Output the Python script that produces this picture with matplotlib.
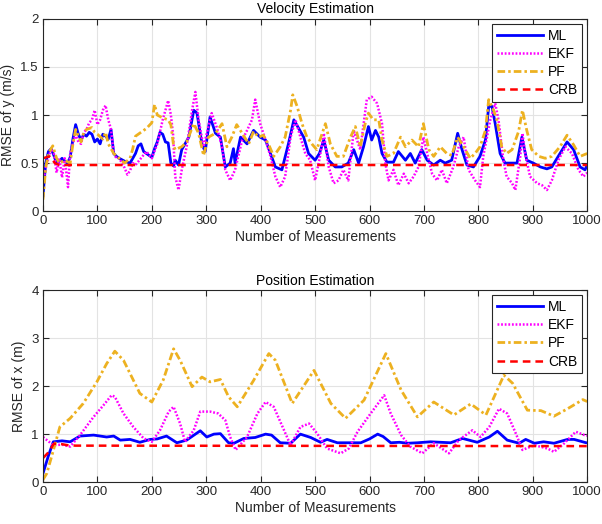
import matplotlib
matplotlib.use("Agg")
import matplotlib.pyplot as plt

plt.rcParams['font.family'] = ['Liberation Sans', 'DejaVu Sans']
plt.rcParams['lines.scale_dashes'] = False

# ---- velocity estimation (top) ----
ml_vel_m = [0, 5, 10, 15, 20, 25, 30, 35, 40, 45, 50, 55, 60, 65, 70, 75, 80, 85, 90, 95, 100,
            105, 110, 115, 120, 125, 130, 135, 140, 150, 160, 165, 170, 175, 180, 185, 190, 200,
            205, 210, 215, 220, 225, 230, 235, 240, 243, 249, 255, 268, 277, 283, 292, 298, 307,
            317, 326, 335, 344, 350, 353, 363, 375, 387, 399, 409, 418, 427, 439, 451, 461, 470,
            479, 488, 500, 508, 516, 525, 537, 549, 561, 571, 580, 589, 598, 604, 611, 617, 623,
            632, 644, 653, 666, 675, 684, 696, 706, 718, 730, 739, 751, 762, 770, 779, 791, 803,
            813, 819, 825, 831, 840, 849, 859, 871, 880, 889, 901, 914, 926, 935, 950, 963, 975,
            987, 996, 1000]
ml_vel = [0.16, 0.5, 0.62, 0.65, 0.58, 0.5, 0.52, 0.55, 0.52, 0.5, 0.56, 0.75, 0.90, 0.8, 0.74,
          0.8, 0.78, 0.82, 0.8, 0.72, 0.75, 0.7, 0.8, 0.78, 0.75, 0.85, 0.6, 0.57, 0.55, 0.52,
          0.5, 0.55, 0.6, 0.68, 0.7, 0.62, 0.6, 0.56, 0.65, 0.72, 0.82, 0.8, 0.72, 0.71, 0.5,
          0.47, 0.53, 0.48, 0.64, 0.77, 1.05, 1.02, 0.70, 0.62, 0.98, 0.81, 0.77, 0.46, 0.50,
          0.65, 0.50, 0.77, 0.70, 0.84, 0.77, 0.74, 0.60, 0.46, 0.43, 0.70, 0.95, 0.86, 0.77,
          0.60, 0.53, 0.6, 0.74, 0.53, 0.46, 0.46, 0.50, 0.64, 0.50, 0.67, 0.88, 0.74, 0.84,
          0.77, 0.60, 0.51, 0.51, 0.62, 0.53, 0.60, 0.50, 0.64, 0.53, 0.48, 0.53, 0.50, 0.53,
          0.81, 0.64, 0.48, 0.46, 0.57, 0.74, 1.09, 1.09, 0.91, 0.60, 0.50, 0.50, 0.50, 0.77,
          0.53, 0.50, 0.46, 0.44, 0.46, 0.60, 0.72, 0.64, 0.46, 0.43, 0.48]

ekf_vel_m = [0, 5, 10, 15, 20, 25, 30, 35, 40, 46, 50, 55, 60, 65, 70, 75, 80, 85, 90, 95, 100,
             105, 110, 115, 120, 125, 130, 135, 140, 145, 150, 155, 160, 165, 170, 180, 190, 200,
             210, 220, 230, 235, 239, 243, 249, 255, 264, 274, 280, 286, 295, 304, 310, 320, 329,
             335, 344, 353, 366, 375, 384, 390, 399, 409, 418, 427, 436, 445, 455, 464, 473, 482,
             491, 500, 509, 516, 525, 534, 543, 552, 561, 571, 583, 595, 604, 614, 623, 629, 635,
             644, 653, 663, 672, 681, 690, 699, 706, 715, 724, 733, 742, 754, 764, 773, 782, 794,
             803, 809, 822, 831, 837, 846, 852, 862, 868, 877, 881, 886, 895, 908, 917, 926, 935,
             947, 960, 972, 984, 993, 1000]
ekf_vel = [0.3, 0.45, 0.55, 0.65, 0.6, 0.4, 0.55, 0.35, 0.55, 0.25, 0.6, 0.7, 0.8, 0.72, 0.7,
           0.82, 0.85, 0.92, 0.95, 1.05, 0.9, 0.95, 1.05, 1.1, 0.95, 0.85, 0.6, 0.55, 0.55, 0.5,
           0.45, 0.38, 0.42, 0.5, 0.48, 0.55, 0.62, 0.55, 0.7, 0.95, 1.15, 1.0, 0.8, 0.36, 0.22,
           0.43, 0.67, 1.05, 1.24, 0.95, 0.67, 0.88, 1.02, 0.86, 0.67, 0.43, 0.32, 0.43, 0.74,
           0.84, 0.95, 1.16, 0.91, 0.74, 0.57, 0.36, 0.25, 0.36, 0.77, 0.95, 0.77, 0.60, 0.53,
           0.32, 0.57, 0.81, 0.46, 0.29, 0.32, 0.43, 0.32, 0.84, 0.64, 1.16, 1.19, 1.12, 0.91,
           0.50, 0.32, 0.43, 0.27, 0.39, 0.29, 0.36, 0.46, 0.77, 0.60, 0.39, 0.32, 0.43, 0.29,
           0.46, 0.67, 0.77, 0.43, 0.32, 0.25, 0.57, 0.95, 1.12, 0.95, 0.53, 0.36, 0.29, 0.22,
           0.57, 0.81, 0.60, 0.36, 0.29, 0.27, 0.22, 0.32, 0.53, 0.67, 0.60, 0.43, 0.36, 0.4]

pf_vel_m = [0, 5, 10, 18, 25, 30, 40, 50, 55, 60, 65, 70, 75, 80, 90, 95, 100, 110, 115, 120,
            130, 140, 150, 160, 165, 170, 180, 190, 200, 205, 210, 220, 230, 235, 240, 243, 255,
            264, 277, 286, 295, 304, 317, 329, 338, 347, 356, 366, 378, 387, 396, 405, 415, 424,
            436, 445, 455, 459, 467, 476, 485, 494, 503, 519, 528, 540, 552, 565, 574, 583, 592,
            598, 607, 617, 623, 632, 644, 657, 666, 678, 690, 699, 709, 718, 730, 742, 751, 762,
            773, 785, 794, 803, 813, 819, 828, 834, 843, 852, 862, 874, 881, 889, 898, 911, 923,
            935, 950, 963, 975, 987, 1000]
pf_vel = [0.12, 0.45, 0.6, 0.68, 0.55, 0.5, 0.53, 0.5, 0.7, 0.85, 0.78, 0.72, 0.82, 0.85, 0.87,
          0.82, 0.8, 0.75, 0.82, 0.7, 0.6, 0.55, 0.5, 0.55, 0.65, 0.78, 0.82, 0.86, 0.92, 1.11,
          1.0, 0.97, 0.95, 0.9, 0.68, 0.64, 0.67, 0.72, 0.91, 0.81, 0.58, 0.77, 0.81, 0.91, 0.67,
          0.77, 0.90, 0.81, 0.70, 0.83, 0.77, 0.79, 0.69, 0.57, 0.67, 0.77, 1.05, 1.21, 1.09,
          0.91, 0.77, 0.70, 0.64, 0.91, 0.70, 0.57, 0.57, 0.77, 0.88, 0.67, 0.91, 1.02, 0.95,
          0.95, 0.74, 0.57, 0.60, 0.77, 0.67, 0.74, 0.67, 0.91, 0.64, 0.57, 0.67, 0.60, 0.58,
          0.77, 0.67, 0.55, 0.60, 0.67, 0.84, 1.16, 1.05, 0.95, 0.67, 0.60, 0.64, 0.83, 1.05,
          0.84, 0.64, 0.57, 0.55, 0.57, 0.67, 0.79, 0.69, 0.57, 0.60]

crb_vel_m = [0, 12, 22, 30, 1000]
crb_vel = [0.55, 0.57, 0.5, 0.48, 0.48]

# ---- position estimation (bottom) ----
ml_pos_m = [0, 10, 19, 35, 50, 68, 93, 117, 130, 142, 160, 178, 197, 210, 227, 246, 264, 289,
            301, 314, 326, 341, 351, 369, 390, 409, 420, 436, 455, 473, 492, 510, 522, 541, 560,
            584, 600, 615, 625, 639, 655, 670, 688, 712, 749, 771, 798, 820, 835, 853, 875, 887,
            903, 920, 939, 964, 976, 998, 1000]
ml_pos = [0.18, 0.55, 0.84, 0.86, 0.84, 0.96, 0.98, 0.94, 0.96, 0.875, 0.89, 0.83, 0.89, 0.9,
          0.96, 0.82, 0.875, 1.07, 0.94, 1.0, 1.01, 0.82, 0.81, 0.91, 0.93, 1.0, 0.98, 0.82,
          0.81, 1.0, 0.93, 0.83, 0.89, 0.82, 0.82, 0.82, 0.9, 1.0, 0.95, 0.82, 0.83, 0.81, 0.82,
          0.84, 0.82, 0.91, 0.83, 0.94, 1.06, 0.875, 0.81, 0.89, 0.81, 0.84, 0.81, 0.89, 0.89,
          0.82, 0.82]

ekf_pos_m = [0, 19, 35, 50, 68, 93, 111, 126, 132, 148, 166, 185, 200, 215, 231, 240, 252, 261,
             277, 289, 307, 322, 335, 344, 354, 375, 394, 409, 424, 443, 455, 473, 489, 504, 522,
             547, 562, 578, 602, 627, 639, 658, 675, 697, 718, 746, 764, 789, 804, 820, 838, 853,
             869, 881, 903, 927, 939, 958, 979, 995, 1000]
ekf_pos = [0.94, 0.77, 0.78, 0.74, 0.98, 1.36, 1.6, 1.81, 1.78, 1.43, 1.15, 0.91, 0.84, 1.08,
           1.47, 1.57, 1.22, 0.84, 1.08, 1.47, 1.47, 1.43, 1.29, 0.94, 0.67, 0.94, 1.43, 1.67,
           1.57, 1.08, 0.77, 1.15, 1.22, 1.01, 0.70, 0.60, 0.70, 1.05, 1.43, 1.81, 1.43, 0.98,
           0.74, 0.60, 0.81, 0.60, 0.875, 1.08, 0.94, 1.15, 1.53, 1.43, 1.01, 0.67, 0.77, 0.70,
           0.63, 0.81, 1.05, 0.98, 0.97]

pf_pos_m = [0, 7, 20, 31, 50, 74, 99, 117, 132, 148, 178, 200, 221, 240, 252, 274, 292, 307,
            326, 341, 357, 387, 415, 427, 458, 498, 529, 556, 590, 630, 658, 688, 718, 755, 786,
            814, 847, 863, 890, 915, 939, 964, 992, 1000]
pf_pos = [0.05, 0.18, 0.7, 1.15, 1.33, 1.64, 2.09, 2.47, 2.73, 2.54, 1.85, 1.67, 2.13, 2.78,
          2.54, 1.99, 2.19, 2.09, 2.14, 1.78, 1.57, 2.12, 2.68, 2.54, 1.64, 2.33, 1.64, 1.33,
          1.71, 2.68, 1.92, 1.36, 1.67, 1.40, 1.63, 1.40, 2.23, 2.06, 1.5, 1.49, 1.375, 1.53,
          1.72, 1.68]

crb_pos_m = [0, 10, 20, 30, 45, 60, 1000]
crb_pos = [0.5, 0.62, 0.8, 0.8, 0.77, 0.76, 0.75]

labels = ['ML', 'EKF', 'PF', 'CRB']
xticks = list(range(0, 1001, 100))

dark = '#262626'
fig = plt.figure(figsize=(6.02, 5.24), dpi=100)
ax1 = fig.add_axes([0.0714, 0.597, 0.904, 0.367])
ax2 = fig.add_axes([0.0714, 0.080, 0.904, 0.366])


def draw(ax, ml, ekf, pf, crb):
    ax.plot(ml[0], ml[1], color='#0000FF', lw=2.0, label=labels[0])
    ax.plot(ekf[0], ekf[1], color='#FF00FF', lw=1.8, dashes=[1.3, 1.3], label=labels[1])
    ax.plot(pf[0], pf[1], color='#EDB120', lw=2.0, dashes=[5.5, 2.2, 1.8, 2.2], label=labels[2])
    ax.plot(crb[0], crb[1], color='#FF0000', lw=1.8, dashes=[5.5, 3.6], label=labels[3])


draw(ax1, (ml_vel_m, ml_vel), (ekf_vel_m, ekf_vel), (pf_vel_m, pf_vel), (crb_vel_m, crb_vel))
draw(ax2, (ml_pos_m, ml_pos), (ekf_pos_m, ekf_pos), (pf_pos_m, pf_pos), (crb_pos_m, crb_pos))

ax1.set_ylim(0, 2)
ax1.set_yticks([0, 0.5, 1, 1.5, 2])
ax1.set_yticklabels(['0', '0.5', '1', '1.5', '2'])
ax1.set_ylabel('RMSE of y (m/s)', fontsize=10, color=dark)
ax1.set_title('Velocity Estimation', fontsize=10, color='black', pad=4)

ax2.set_ylim(0, 4)
ax2.set_yticks([0, 1, 2, 3, 4])
ax2.set_ylabel('RMSE of x (m)', fontsize=10, color=dark)
ax2.set_title('Position Estimation', fontsize=10, color='black', pad=4)

for ax in (ax1, ax2):
    ax.set_xlim(0, 1000)
    ax.set_xticks(xticks)
    ax.set_xlabel('Number of Measurements', fontsize=10, color=dark, labelpad=2)
    ax.grid(True, color='#e3e3e3', lw=0.8)
    ax.set_axisbelow(True)
    ax.tick_params(direction='in', top=True, right=True, length=4, width=0.8,
                   labelsize=9.5, colors=dark, pad=3)
    for s in ax.spines.values():
        s.set_color(dark)
        s.set_linewidth(0.8)
    leg = ax.legend(loc='upper right', fontsize=10, handlelength=3.3, labelspacing=0.3,
                    borderaxespad=0.35, fancybox=False, framealpha=1, edgecolor=dark,
                    handletextpad=0.4, borderpad=0.35)
    leg.get_frame().set_linewidth(0.8)

fig.savefig('out.png', dpi=100)
